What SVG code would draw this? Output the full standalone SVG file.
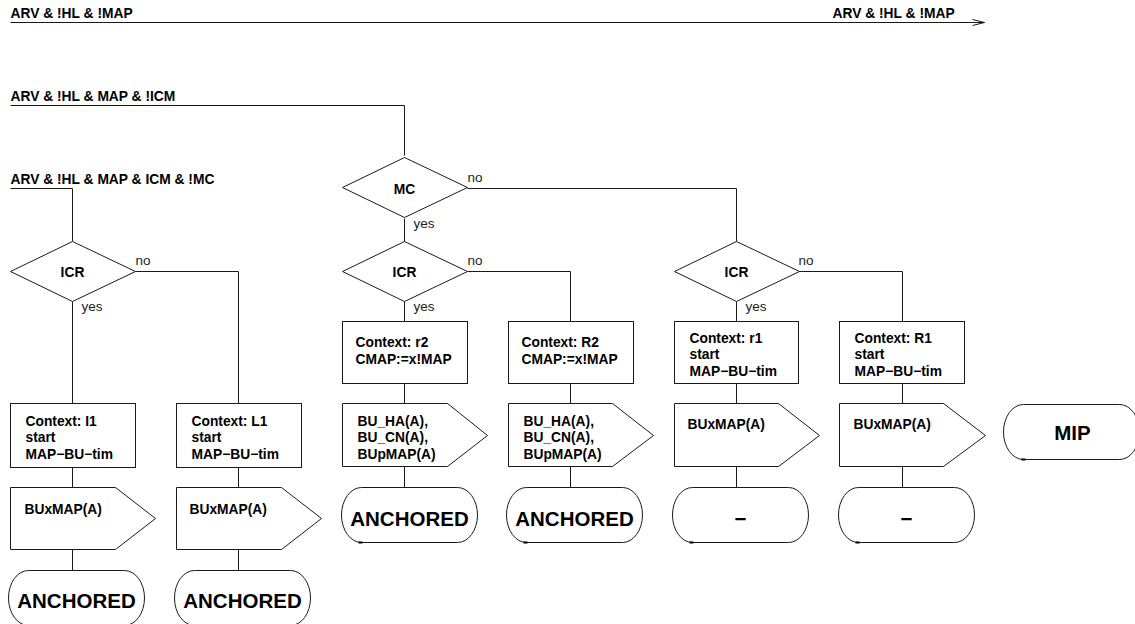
<svg xmlns="http://www.w3.org/2000/svg" width="1135" height="624" viewBox="0 0 1135 624">
  <style>
    .ln { fill: none; stroke: #1a1a1a; stroke-width: 1; }
    .shp { fill: #fff; stroke: #1a1a1a; stroke-width: 1; }
    .b { font-family: "Liberation Sans", Arial, sans-serif; font-weight: bold; font-size: 13.8px; fill: #000; }
    .c { text-anchor: middle; }
    .lbl { font-family: "Liberation Sans", Arial, sans-serif; font-size: 13.5px; fill: #222; }
    .big { font-family: "Liberation Sans", Arial, sans-serif; font-weight: bold; font-size: 20.5px; fill: #000; text-anchor: middle; }
    .tick { fill: #000; }
  </style>
  <defs>
    <polygon id="dia" points="-62,0 0,-30 63,0 0,30"/>
    <polygon id="out" points="0,0 105,0 145,31 105,62 0,62"/>
    <rect id="term" x="0" y="0" width="136" height="55" rx="20" ry="27.5"/>
  </defs>

  <g transform="translate(0.5,0.5)">
    <!-- connectors -->
    <g id="connectors" class="ln">
      <path d="M10,22 H984 M972,19 L984,22 L972,25"/>
      <path d="M10,105 H404 V155"/>
      <path d="M10,188 H72 V241"/>
      <!-- left branch -->
      <path d="M72,301 V403 M135,271 H238 V403"/>
      <path d="M72,467 V487 M238,467 V487"/>
      <path d="M72,548 V570 M238,548 V570"/>
      <!-- MC -->
      <path d="M404,218 V241 M467,188 H736 V241"/>
      <!-- middle branch -->
      <path d="M404,301 V321 M467,271 H570 V321"/>
      <path d="M404,383 V403 M570,383 V403"/>
      <path d="M404,466 V487 M570,466 V487"/>
      <!-- right branch -->
      <path d="M736,301 V321 M798,271 H902 V321"/>
      <path d="M736,383 V403 M902,383 V403"/>
      <path d="M736,466 V487 M902,466 V487"/>
    </g>

    <!-- condition labels on the input lines -->
    <g id="inputs">
      <text class="b" x="10" y="17">ARV &amp; !HL &amp; !MAP</text>
      <text class="b" x="832" y="17">ARV &amp; !HL &amp; !MAP</text>
      <text class="b" x="10" y="100">ARV &amp; !HL &amp; MAP &amp; !ICM</text>
      <text class="b" x="10" y="183">ARV &amp; !HL &amp; MAP &amp; ICM &amp; !MC</text>
    </g>

    <!-- decisions -->
    <g id="icr-left">
      <use href="#dia" class="shp" x="72" y="271"/>
      <text class="b c" x="72" y="276">ICR</text>
      <text class="lbl" x="135" y="264">no</text>
      <text class="lbl" x="81" y="310">yes</text>
    </g>
    <g id="mc">
      <use href="#dia" class="shp" x="404" y="187"/>
      <text class="b c" x="404" y="193">MC</text>
      <text class="lbl" x="467" y="181">no</text>
      <text class="lbl" x="413" y="227">yes</text>
    </g>
    <g id="icr-mid">
      <use href="#dia" class="shp" x="404" y="271"/>
      <text class="b c" x="404" y="276">ICR</text>
      <text class="lbl" x="467" y="264">no</text>
      <text class="lbl" x="413" y="310">yes</text>
    </g>
    <g id="icr-right">
      <use href="#dia" class="shp" x="736" y="271"/>
      <text class="b c" x="736" y="276">ICR</text>
      <text class="lbl" x="798" y="264">no</text>
      <text class="lbl" x="745" y="310">yes</text>
    </g>

    <!-- tasks -->
    <g id="ctx-i1">
      <rect class="shp" x="10" y="403" width="125" height="64"/>
      <text class="b" x="25" y="425">Context: I1</text>
      <text class="b" x="25" y="441">start</text>
      <text class="b" x="25" y="458">MAP−BU−tim</text>
    </g>
    <g id="ctx-L1">
      <rect class="shp" x="176" y="403" width="125" height="64"/>
      <text class="b" x="191" y="425">Context: L1</text>
      <text class="b" x="191" y="441">start</text>
      <text class="b" x="191" y="458">MAP−BU−tim</text>
    </g>
    <g id="ctx-r2">
      <rect class="shp" x="342" y="321" width="125" height="62"/>
      <text class="b" x="355" y="346">Context: r2</text>
      <text class="b" x="355" y="363">CMAP:=x!MAP</text>
    </g>
    <g id="ctx-R2">
      <rect class="shp" x="508" y="321" width="125" height="62"/>
      <text class="b" x="521" y="346">Context: R2</text>
      <text class="b" x="521" y="363">CMAP:=x!MAP</text>
    </g>
    <g id="ctx-r1">
      <rect class="shp" x="674" y="321" width="124" height="62"/>
      <text class="b" x="689" y="342">Context: r1</text>
      <text class="b" x="689" y="358">start</text>
      <text class="b" x="689" y="375">MAP−BU−tim</text>
    </g>
    <g id="ctx-R1">
      <rect class="shp" x="839" y="321" width="125" height="62"/>
      <text class="b" x="854" y="342">Context: R1</text>
      <text class="b" x="854" y="358">start</text>
      <text class="b" x="854" y="375">MAP−BU−tim</text>
    </g>

    <!-- outputs -->
    <g id="out-i1">
      <use href="#out" class="shp" x="10" y="487"/>
      <text class="b" x="24" y="513">BUxMAP(A)</text>
    </g>
    <g id="out-L1">
      <use href="#out" class="shp" x="176" y="487"/>
      <text class="b" x="189" y="513">BUxMAP(A)</text>
    </g>
    <g id="out-r2">
      <polygon class="shp" points="342,403 447,403 487,435 447,466 342,466"/>
      <text class="b" x="357" y="425">BU_HA(A),</text>
      <text class="b" x="357" y="441">BU_CN(A),</text>
      <text class="b" x="357" y="458">BUpMAP(A)</text>
    </g>
    <g id="out-R2">
      <polygon class="shp" points="508,403 612,403 653,435 612,466 508,466"/>
      <text class="b" x="523" y="425">BU_HA(A),</text>
      <text class="b" x="523" y="441">BU_CN(A),</text>
      <text class="b" x="523" y="458">BUpMAP(A)</text>
    </g>
    <g id="out-r1">
      <polygon class="shp" points="674,403 778,403 819,435 778,466 674,466"/>
      <text class="b" x="687" y="428">BUxMAP(A)</text>
    </g>
    <g id="out-R1">
      <polygon class="shp" points="839,403 943,403 985,435 943,466 839,466"/>
      <text class="b" x="853" y="428">BUxMAP(A)</text>
    </g>

    <!-- terminal states -->
    <g id="st-i1">
      <use href="#term" class="shp" x="8" y="570"/>
      <text class="big" x="76" y="607">ANCHORED</text>
    </g>
    <g id="st-L1">
      <use href="#term" class="shp" x="174" y="570"/>
      <text class="big" x="242" y="607">ANCHORED</text>
    </g>
    <g id="st-r2">
      <use href="#term" class="shp" x="341" y="487"/>
      <rect class="tick" x="358" y="541" width="4" height="2"/>
      <text class="big" x="409" y="525">ANCHORED</text>
    </g>
    <g id="st-R2">
      <use href="#term" class="shp" x="506" y="487"/>
      <rect class="tick" x="523" y="541" width="4" height="2"/>
      <text class="big" x="574" y="525">ANCHORED</text>
    </g>
    <g id="st-r1">
      <use href="#term" class="shp" x="672" y="487"/>
      <rect class="tick" x="689" y="541" width="4" height="2"/>
      <text class="big" x="740" y="525">−</text>
    </g>
    <g id="st-R1">
      <use href="#term" class="shp" x="838" y="487"/>
      <rect class="tick" x="855" y="541" width="4" height="2"/>
      <text class="big" x="906" y="525">−</text>
    </g>
    <g id="st-mip">
      <use href="#term" class="shp" x="1003" y="404"/>
      <rect class="tick" x="1021" y="458" width="4" height="2"/>
      <text class="big" x="1072" y="439">MIP</text>
    </g>
  </g>
</svg>
